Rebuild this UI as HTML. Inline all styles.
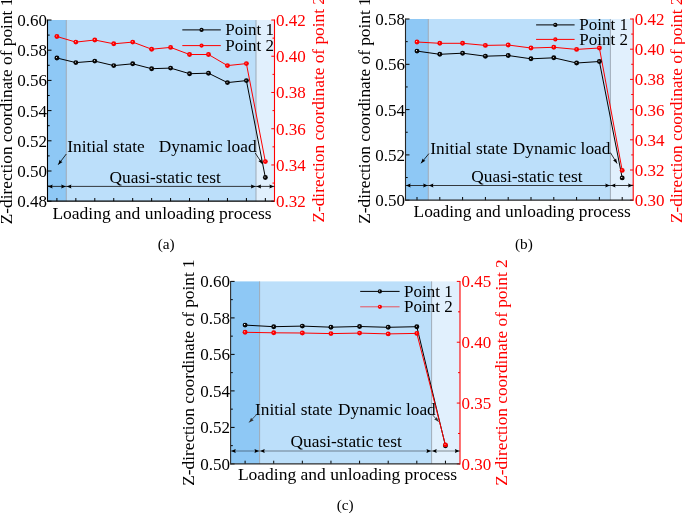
<!DOCTYPE html>
<html><head><meta charset="utf-8"><style>
html,body{margin:0;padding:0;background:#fff;}
svg{display:block;}
text{font-family:"Liberation Serif", "Times New Roman", serif;}
.tl{font-size:17px;fill:#000;}
.tr{font-size:17px;fill:#ff0000;}
.lg{font-size:17px;fill:#000;}
.an{font-size:17.35px;fill:#000;}
.al{font-size:17.3px;fill:#000;}
.alr{font-size:17.3px;fill:#ff0000;}
.xl{font-size:17.5px;fill:#000;}
.cp{font-size:15.3px;fill:#000;}
</style></head><body>
<svg width="685" height="513" viewBox="0 0 685 513">
<defs>
<radialGradient id="gb" cx="0.5" cy="0.5" r="0.5" fx="0.38" fy="0.38"><stop offset="0" stop-color="#ffffff"/><stop offset="0.16" stop-color="#9a9a9a"/><stop offset="0.38" stop-color="#0a0a0a"/><stop offset="1" stop-color="#000"/></radialGradient>
<radialGradient id="gr" cx="0.5" cy="0.5" r="0.5" fx="0.38" fy="0.38"><stop offset="0" stop-color="#ffd0d0"/><stop offset="0.18" stop-color="#ff5050"/><stop offset="0.42" stop-color="#ff0000"/><stop offset="1" stop-color="#f40000"/></radialGradient>
</defs>
<rect width="685" height="513" fill="#fff"/>
<rect x="47.5" y="20" width="18.80" height="181.20" fill="#8ec8f5"/>
<rect x="66.3" y="20" width="189.70" height="181.20" fill="#bcdffa"/>
<rect x="256" y="20" width="18.50" height="181.20" fill="#e1f0fd"/>
<line x1="66.3" y1="20" x2="66.3" y2="201.2" stroke="#98a4b0" stroke-width="0.9"/>
<line x1="256" y1="20" x2="256" y2="201.2" stroke="#98a4b0" stroke-width="0.9"/>
<line x1="56.90" y1="201.2" x2="56.90" y2="198.0" stroke="#000" stroke-width="1"/>
<line x1="75.85" y1="201.2" x2="75.85" y2="198.0" stroke="#000" stroke-width="1"/>
<line x1="94.80" y1="201.2" x2="94.80" y2="198.0" stroke="#000" stroke-width="1"/>
<line x1="113.75" y1="201.2" x2="113.75" y2="198.0" stroke="#000" stroke-width="1"/>
<line x1="132.70" y1="201.2" x2="132.70" y2="198.0" stroke="#000" stroke-width="1"/>
<line x1="151.65" y1="201.2" x2="151.65" y2="198.0" stroke="#000" stroke-width="1"/>
<line x1="170.60" y1="201.2" x2="170.60" y2="198.0" stroke="#000" stroke-width="1"/>
<line x1="189.55" y1="201.2" x2="189.55" y2="198.0" stroke="#000" stroke-width="1"/>
<line x1="208.50" y1="201.2" x2="208.50" y2="198.0" stroke="#000" stroke-width="1"/>
<line x1="227.45" y1="201.2" x2="227.45" y2="198.0" stroke="#000" stroke-width="1"/>
<line x1="246.40" y1="201.2" x2="246.40" y2="198.0" stroke="#000" stroke-width="1"/>
<line x1="265.35" y1="201.2" x2="265.35" y2="198.0" stroke="#000" stroke-width="1"/>
<line x1="47.5" y1="20.00" x2="51.5" y2="20.00" stroke="#000" stroke-width="1"/>
<text x="47.0" y="26.00" text-anchor="end" class="tl">0.60</text>
<line x1="47.5" y1="35.10" x2="49.7" y2="35.10" stroke="#000" stroke-width="1"/>
<line x1="47.5" y1="50.20" x2="51.5" y2="50.20" stroke="#000" stroke-width="1"/>
<text x="47.0" y="56.20" text-anchor="end" class="tl">0.58</text>
<line x1="47.5" y1="65.30" x2="49.7" y2="65.30" stroke="#000" stroke-width="1"/>
<line x1="47.5" y1="80.40" x2="51.5" y2="80.40" stroke="#000" stroke-width="1"/>
<text x="47.0" y="86.40" text-anchor="end" class="tl">0.56</text>
<line x1="47.5" y1="95.50" x2="49.7" y2="95.50" stroke="#000" stroke-width="1"/>
<line x1="47.5" y1="110.60" x2="51.5" y2="110.60" stroke="#000" stroke-width="1"/>
<text x="47.0" y="116.60" text-anchor="end" class="tl">0.54</text>
<line x1="47.5" y1="125.70" x2="49.7" y2="125.70" stroke="#000" stroke-width="1"/>
<line x1="47.5" y1="140.80" x2="51.5" y2="140.80" stroke="#000" stroke-width="1"/>
<text x="47.0" y="146.80" text-anchor="end" class="tl">0.52</text>
<line x1="47.5" y1="155.90" x2="49.7" y2="155.90" stroke="#000" stroke-width="1"/>
<line x1="47.5" y1="171.00" x2="51.5" y2="171.00" stroke="#000" stroke-width="1"/>
<text x="47.0" y="177.00" text-anchor="end" class="tl">0.50</text>
<line x1="47.5" y1="186.10" x2="49.7" y2="186.10" stroke="#000" stroke-width="1"/>
<line x1="47.5" y1="201.20" x2="51.5" y2="201.20" stroke="#000" stroke-width="1"/>
<text x="47.0" y="207.20" text-anchor="end" class="tl">0.48</text>
<line x1="274.5" y1="20.00" x2="271.3" y2="20.00" stroke="#ff0000" stroke-width="1"/>
<text x="276.0" y="26.00" class="tr">0.42</text>
<line x1="274.5" y1="38.12" x2="272.5" y2="38.12" stroke="#ff0000" stroke-width="1"/>
<line x1="274.5" y1="56.24" x2="271.3" y2="56.24" stroke="#ff0000" stroke-width="1"/>
<text x="276.0" y="62.24" class="tr">0.40</text>
<line x1="274.5" y1="74.36" x2="272.5" y2="74.36" stroke="#ff0000" stroke-width="1"/>
<line x1="274.5" y1="92.48" x2="271.3" y2="92.48" stroke="#ff0000" stroke-width="1"/>
<text x="276.0" y="98.48" class="tr">0.38</text>
<line x1="274.5" y1="110.60" x2="272.5" y2="110.60" stroke="#ff0000" stroke-width="1"/>
<line x1="274.5" y1="128.72" x2="271.3" y2="128.72" stroke="#ff0000" stroke-width="1"/>
<text x="276.0" y="134.72" class="tr">0.36</text>
<line x1="274.5" y1="146.84" x2="272.5" y2="146.84" stroke="#ff0000" stroke-width="1"/>
<line x1="274.5" y1="164.96" x2="271.3" y2="164.96" stroke="#ff0000" stroke-width="1"/>
<text x="276.0" y="170.96" class="tr">0.34</text>
<line x1="274.5" y1="183.08" x2="272.5" y2="183.08" stroke="#ff0000" stroke-width="1"/>
<line x1="274.5" y1="201.20" x2="271.3" y2="201.20" stroke="#ff0000" stroke-width="1"/>
<text x="276.0" y="207.20" class="tr">0.32</text>
<line x1="47.5" y1="19.5" x2="47.5" y2="201.7" stroke="#000" stroke-width="1.1"/>
<line x1="47.5" y1="201.2" x2="274.5" y2="201.2" stroke="#000" stroke-width="1.2"/>
<line x1="274.5" y1="19.5" x2="274.5" y2="201.7" stroke="#ff0000" stroke-width="1.1"/>
<line x1="47.5" y1="186.4" x2="274.5" y2="186.4" stroke="#1a1a1a" stroke-width="0.85"/>
<polygon points="48.00,186.40 52.60,184.40 52.05,186.40 52.60,188.40" fill="#000"/>
<polygon points="65.80,186.40 61.20,188.40 61.75,186.40 61.20,184.40" fill="#000"/>
<polygon points="66.80,186.40 71.40,184.40 70.85,186.40 71.40,188.40" fill="#000"/>
<polygon points="255.50,186.40 250.90,188.40 251.45,186.40 250.90,184.40" fill="#000"/>
<polygon points="256.50,186.40 261.10,184.40 260.55,186.40 261.10,188.40" fill="#000"/>
<polygon points="274.00,186.40 269.40,188.40 269.95,186.40 269.40,184.40" fill="#000"/>
<polyline points="56.90,58.00 75.85,62.60 94.80,61.10 113.75,65.60 132.70,63.80 151.65,68.70 170.60,68.10 189.55,73.70 208.50,73.20 227.45,82.60 246.40,80.60 265.35,177.50" fill="none" stroke="#000" stroke-width="1"/>
<polyline points="56.90,36.50 75.85,42.10 94.80,40.00 113.75,43.80 132.70,42.10 151.65,49.20 170.60,47.40 189.55,54.50 208.50,54.50 227.45,65.60 246.40,63.60 265.35,161.60" fill="none" stroke="#ff0000" stroke-width="1"/>
<circle cx="56.90" cy="58.00" r="2.45" fill="url(#gb)"/>
<circle cx="75.85" cy="62.60" r="2.45" fill="url(#gb)"/>
<circle cx="94.80" cy="61.10" r="2.45" fill="url(#gb)"/>
<circle cx="113.75" cy="65.60" r="2.45" fill="url(#gb)"/>
<circle cx="132.70" cy="63.80" r="2.45" fill="url(#gb)"/>
<circle cx="151.65" cy="68.70" r="2.45" fill="url(#gb)"/>
<circle cx="170.60" cy="68.10" r="2.45" fill="url(#gb)"/>
<circle cx="189.55" cy="73.70" r="2.45" fill="url(#gb)"/>
<circle cx="208.50" cy="73.20" r="2.45" fill="url(#gb)"/>
<circle cx="227.45" cy="82.60" r="2.45" fill="url(#gb)"/>
<circle cx="246.40" cy="80.60" r="2.45" fill="url(#gb)"/>
<circle cx="265.35" cy="177.50" r="2.45" fill="url(#gb)"/>
<circle cx="56.90" cy="36.50" r="2.45" fill="url(#gr)"/>
<circle cx="75.85" cy="42.10" r="2.45" fill="url(#gr)"/>
<circle cx="94.80" cy="40.00" r="2.45" fill="url(#gr)"/>
<circle cx="113.75" cy="43.80" r="2.45" fill="url(#gr)"/>
<circle cx="132.70" cy="42.10" r="2.45" fill="url(#gr)"/>
<circle cx="151.65" cy="49.20" r="2.45" fill="url(#gr)"/>
<circle cx="170.60" cy="47.40" r="2.45" fill="url(#gr)"/>
<circle cx="189.55" cy="54.50" r="2.45" fill="url(#gr)"/>
<circle cx="208.50" cy="54.50" r="2.45" fill="url(#gr)"/>
<circle cx="227.45" cy="65.60" r="2.45" fill="url(#gr)"/>
<circle cx="246.40" cy="63.60" r="2.45" fill="url(#gr)"/>
<circle cx="265.35" cy="161.60" r="2.45" fill="url(#gr)"/>
<line x1="182.3" y1="29.9" x2="220.8" y2="29.9" stroke="#000" stroke-width="1"/>
<circle cx="201.55" cy="29.90" r="2.1" fill="url(#gb)"/>
<text x="225.3" y="35.4" class="lg">Point 1</text>
<line x1="182.3" y1="45.6" x2="220.8" y2="45.6" stroke="#ff0000" stroke-width="1"/>
<circle cx="201.55" cy="45.60" r="2.1" fill="url(#gr)"/>
<text x="225.3" y="51.1" class="lg">Point 2</text>
<text x="67.2" y="151.6" class="an">Initial state</text>
<text x="158.8" y="151.6" class="an">Dynamic load</text>
<text x="109.5" y="182.8" class="an">Quasi-static test</text>
<line x1="66.3" y1="154" x2="58.2" y2="164.7" stroke="#000" stroke-width="0.8"/>
<polygon points="58.20,164.70 59.66,159.79 60.81,161.26 62.53,161.96" fill="#000"/>
<line x1="255.2" y1="153" x2="262.5" y2="164" stroke="#000" stroke-width="0.8"/>
<polygon points="262.50,164.00 258.35,161.00 260.11,160.40 261.35,159.01" fill="#000"/>
<text transform="translate(12.2,224.2) rotate(-90)" class="al">Z-direction coordinate of point 1</text>
<text transform="translate(323.7,222.6) rotate(-90)" class="alr">Z-direction coordinate of point 2</text>
<text x="52.4" y="218.8" class="xl" style="font-size:17.5px">Loading and unloading process</text>
<text x="157.7" y="248.7" class="cp">(a)</text>
<rect x="405.5" y="19" width="22.80" height="181.20" fill="#8ec8f5"/>
<rect x="428.3" y="19" width="182.10" height="181.20" fill="#bcdffa"/>
<rect x="610.4" y="19" width="22.80" height="181.20" fill="#e1f0fd"/>
<line x1="428.3" y1="19" x2="428.3" y2="200.2" stroke="#98a4b0" stroke-width="0.9"/>
<line x1="610.4" y1="19" x2="610.4" y2="200.2" stroke="#98a4b0" stroke-width="0.9"/>
<line x1="417.00" y1="200.2" x2="417.00" y2="197.0" stroke="#000" stroke-width="1"/>
<line x1="439.80" y1="200.2" x2="439.80" y2="197.0" stroke="#000" stroke-width="1"/>
<line x1="462.60" y1="200.2" x2="462.60" y2="197.0" stroke="#000" stroke-width="1"/>
<line x1="485.40" y1="200.2" x2="485.40" y2="197.0" stroke="#000" stroke-width="1"/>
<line x1="508.20" y1="200.2" x2="508.20" y2="197.0" stroke="#000" stroke-width="1"/>
<line x1="531.00" y1="200.2" x2="531.00" y2="197.0" stroke="#000" stroke-width="1"/>
<line x1="553.80" y1="200.2" x2="553.80" y2="197.0" stroke="#000" stroke-width="1"/>
<line x1="576.60" y1="200.2" x2="576.60" y2="197.0" stroke="#000" stroke-width="1"/>
<line x1="599.40" y1="200.2" x2="599.40" y2="197.0" stroke="#000" stroke-width="1"/>
<line x1="622.20" y1="200.2" x2="622.20" y2="197.0" stroke="#000" stroke-width="1"/>
<line x1="405.5" y1="19.00" x2="409.5" y2="19.00" stroke="#000" stroke-width="1"/>
<text x="405.0" y="25.00" text-anchor="end" class="tl">0.58</text>
<line x1="405.5" y1="41.65" x2="407.7" y2="41.65" stroke="#000" stroke-width="1"/>
<line x1="405.5" y1="64.30" x2="409.5" y2="64.30" stroke="#000" stroke-width="1"/>
<text x="405.0" y="70.30" text-anchor="end" class="tl">0.56</text>
<line x1="405.5" y1="86.95" x2="407.7" y2="86.95" stroke="#000" stroke-width="1"/>
<line x1="405.5" y1="109.60" x2="409.5" y2="109.60" stroke="#000" stroke-width="1"/>
<text x="405.0" y="115.60" text-anchor="end" class="tl">0.54</text>
<line x1="405.5" y1="132.25" x2="407.7" y2="132.25" stroke="#000" stroke-width="1"/>
<line x1="405.5" y1="154.90" x2="409.5" y2="154.90" stroke="#000" stroke-width="1"/>
<text x="405.0" y="160.90" text-anchor="end" class="tl">0.52</text>
<line x1="405.5" y1="177.55" x2="407.7" y2="177.55" stroke="#000" stroke-width="1"/>
<line x1="405.5" y1="200.20" x2="409.5" y2="200.20" stroke="#000" stroke-width="1"/>
<text x="405.0" y="206.20" text-anchor="end" class="tl">0.50</text>
<line x1="633.2" y1="19.00" x2="630.0" y2="19.00" stroke="#ff0000" stroke-width="1"/>
<text x="634.7" y="25.00" class="tr">0.42</text>
<line x1="633.2" y1="34.10" x2="631.2" y2="34.10" stroke="#ff0000" stroke-width="1"/>
<line x1="633.2" y1="49.20" x2="630.0" y2="49.20" stroke="#ff0000" stroke-width="1"/>
<text x="634.7" y="55.20" class="tr">0.40</text>
<line x1="633.2" y1="64.30" x2="631.2" y2="64.30" stroke="#ff0000" stroke-width="1"/>
<line x1="633.2" y1="79.40" x2="630.0" y2="79.40" stroke="#ff0000" stroke-width="1"/>
<text x="634.7" y="85.40" class="tr">0.38</text>
<line x1="633.2" y1="94.50" x2="631.2" y2="94.50" stroke="#ff0000" stroke-width="1"/>
<line x1="633.2" y1="109.60" x2="630.0" y2="109.60" stroke="#ff0000" stroke-width="1"/>
<text x="634.7" y="115.60" class="tr">0.36</text>
<line x1="633.2" y1="124.70" x2="631.2" y2="124.70" stroke="#ff0000" stroke-width="1"/>
<line x1="633.2" y1="139.80" x2="630.0" y2="139.80" stroke="#ff0000" stroke-width="1"/>
<text x="634.7" y="145.80" class="tr">0.34</text>
<line x1="633.2" y1="154.90" x2="631.2" y2="154.90" stroke="#ff0000" stroke-width="1"/>
<line x1="633.2" y1="170.00" x2="630.0" y2="170.00" stroke="#ff0000" stroke-width="1"/>
<text x="634.7" y="176.00" class="tr">0.32</text>
<line x1="633.2" y1="185.10" x2="631.2" y2="185.10" stroke="#ff0000" stroke-width="1"/>
<line x1="633.2" y1="200.20" x2="630.0" y2="200.20" stroke="#ff0000" stroke-width="1"/>
<text x="634.7" y="206.20" class="tr">0.30</text>
<line x1="405.5" y1="18.5" x2="405.5" y2="200.7" stroke="#262626" stroke-width="1.1"/>
<line x1="405.5" y1="200.2" x2="633.2" y2="200.2" stroke="#262626" stroke-width="1.2"/>
<line x1="633.2" y1="18.5" x2="633.2" y2="200.7" stroke="#ff0000" stroke-width="1.1"/>
<line x1="405.5" y1="185.5" x2="633.2" y2="185.5" stroke="#1a1a1a" stroke-width="0.85"/>
<polygon points="406.00,185.50 410.60,183.50 410.05,185.50 410.60,187.50" fill="#000"/>
<polygon points="427.80,185.50 423.20,187.50 423.75,185.50 423.20,183.50" fill="#000"/>
<polygon points="428.80,185.50 433.40,183.50 432.85,185.50 433.40,187.50" fill="#000"/>
<polygon points="609.90,185.50 605.30,187.50 605.85,185.50 605.30,183.50" fill="#000"/>
<polygon points="610.90,185.50 615.50,183.50 614.95,185.50 615.50,187.50" fill="#000"/>
<polygon points="632.70,185.50 628.10,187.50 628.65,185.50 628.10,183.50" fill="#000"/>
<polyline points="417.00,51.10 439.80,54.30 462.60,53.20 485.40,56.20 508.20,55.50 531.00,58.80 553.80,57.80 576.60,63.00 599.40,61.50 622.20,177.90" fill="none" stroke="#000" stroke-width="1"/>
<polyline points="417.00,42.00 439.80,43.30 462.60,43.30 485.40,45.40 508.20,45.00 531.00,48.00 553.80,47.30 576.60,49.40 599.40,48.00 622.20,170.40" fill="none" stroke="#ff0000" stroke-width="1"/>
<circle cx="417.00" cy="51.10" r="2.45" fill="url(#gb)"/>
<circle cx="439.80" cy="54.30" r="2.45" fill="url(#gb)"/>
<circle cx="462.60" cy="53.20" r="2.45" fill="url(#gb)"/>
<circle cx="485.40" cy="56.20" r="2.45" fill="url(#gb)"/>
<circle cx="508.20" cy="55.50" r="2.45" fill="url(#gb)"/>
<circle cx="531.00" cy="58.80" r="2.45" fill="url(#gb)"/>
<circle cx="553.80" cy="57.80" r="2.45" fill="url(#gb)"/>
<circle cx="576.60" cy="63.00" r="2.45" fill="url(#gb)"/>
<circle cx="599.40" cy="61.50" r="2.45" fill="url(#gb)"/>
<circle cx="622.20" cy="177.90" r="2.45" fill="url(#gb)"/>
<circle cx="417.00" cy="42.00" r="2.45" fill="url(#gr)"/>
<circle cx="439.80" cy="43.30" r="2.45" fill="url(#gr)"/>
<circle cx="462.60" cy="43.30" r="2.45" fill="url(#gr)"/>
<circle cx="485.40" cy="45.40" r="2.45" fill="url(#gr)"/>
<circle cx="508.20" cy="45.00" r="2.45" fill="url(#gr)"/>
<circle cx="531.00" cy="48.00" r="2.45" fill="url(#gr)"/>
<circle cx="553.80" cy="47.30" r="2.45" fill="url(#gr)"/>
<circle cx="576.60" cy="49.40" r="2.45" fill="url(#gr)"/>
<circle cx="599.40" cy="48.00" r="2.45" fill="url(#gr)"/>
<circle cx="622.20" cy="170.40" r="2.45" fill="url(#gr)"/>
<line x1="536.1" y1="24.9" x2="574.6" y2="24.9" stroke="#000" stroke-width="1"/>
<circle cx="555.35" cy="24.90" r="2.1" fill="url(#gb)"/>
<text x="579.3" y="30.4" class="lg">Point 1</text>
<line x1="536.1" y1="39.4" x2="574.6" y2="39.4" stroke="#ff0000" stroke-width="1"/>
<circle cx="555.35" cy="39.40" r="2.1" fill="url(#gr)"/>
<text x="579.3" y="44.9" class="lg">Point 2</text>
<text x="430.2" y="153.5" class="an">Initial state</text>
<text x="512.7" y="153.5" class="an">Dynamic load</text>
<text x="471.3" y="181.8" class="an">Quasi-static test</text>
<line x1="428.9" y1="153.6" x2="421" y2="163.3" stroke="#000" stroke-width="0.8"/>
<polygon points="421.00,163.30 422.64,158.44 423.73,159.95 425.43,160.71" fill="#000"/>
<line x1="610.4" y1="152.6" x2="617.1" y2="163.5" stroke="#000" stroke-width="0.8"/>
<polygon points="617.10,163.50 613.05,160.35 614.84,159.82 616.12,158.47" fill="#000"/>
<text transform="translate(369.6,223.8) rotate(-90)" class="al">Z-direction coordinate of point 1</text>
<text transform="translate(681.8,223) rotate(-90)" class="alr">Z-direction coordinate of point 2</text>
<text x="413.6" y="217.3" class="xl" style="font-size:17.35px">Loading and unloading process</text>
<text x="515" y="248.7" class="cp">(b)</text>
<rect x="230.6" y="281.4" width="29.00" height="182.50" fill="#8ec8f5"/>
<rect x="259.6" y="281.4" width="172.00" height="182.50" fill="#bcdffa"/>
<rect x="431.6" y="281.4" width="28.40" height="182.50" fill="#e1f0fd"/>
<line x1="259.6" y1="281.4" x2="259.6" y2="463.9" stroke="#98a4b0" stroke-width="0.9"/>
<line x1="431.6" y1="281.4" x2="431.6" y2="463.9" stroke="#98a4b0" stroke-width="0.9"/>
<line x1="245.10" y1="463.9" x2="245.10" y2="460.7" stroke="#000" stroke-width="1"/>
<line x1="273.72" y1="463.9" x2="273.72" y2="460.7" stroke="#000" stroke-width="1"/>
<line x1="302.34" y1="463.9" x2="302.34" y2="460.7" stroke="#000" stroke-width="1"/>
<line x1="330.96" y1="463.9" x2="330.96" y2="460.7" stroke="#000" stroke-width="1"/>
<line x1="359.58" y1="463.9" x2="359.58" y2="460.7" stroke="#000" stroke-width="1"/>
<line x1="388.20" y1="463.9" x2="388.20" y2="460.7" stroke="#000" stroke-width="1"/>
<line x1="416.82" y1="463.9" x2="416.82" y2="460.7" stroke="#000" stroke-width="1"/>
<line x1="445.44" y1="463.9" x2="445.44" y2="460.7" stroke="#000" stroke-width="1"/>
<line x1="230.6" y1="281.40" x2="234.6" y2="281.40" stroke="#000" stroke-width="1"/>
<text x="230.1" y="287.40" text-anchor="end" class="tl">0.60</text>
<line x1="230.6" y1="299.65" x2="232.79999999999998" y2="299.65" stroke="#000" stroke-width="1"/>
<line x1="230.6" y1="317.90" x2="234.6" y2="317.90" stroke="#000" stroke-width="1"/>
<text x="230.1" y="323.90" text-anchor="end" class="tl">0.58</text>
<line x1="230.6" y1="336.15" x2="232.79999999999998" y2="336.15" stroke="#000" stroke-width="1"/>
<line x1="230.6" y1="354.40" x2="234.6" y2="354.40" stroke="#000" stroke-width="1"/>
<text x="230.1" y="360.40" text-anchor="end" class="tl">0.56</text>
<line x1="230.6" y1="372.65" x2="232.79999999999998" y2="372.65" stroke="#000" stroke-width="1"/>
<line x1="230.6" y1="390.90" x2="234.6" y2="390.90" stroke="#000" stroke-width="1"/>
<text x="230.1" y="396.90" text-anchor="end" class="tl">0.54</text>
<line x1="230.6" y1="409.15" x2="232.79999999999998" y2="409.15" stroke="#000" stroke-width="1"/>
<line x1="230.6" y1="427.40" x2="234.6" y2="427.40" stroke="#000" stroke-width="1"/>
<text x="230.1" y="433.40" text-anchor="end" class="tl">0.52</text>
<line x1="230.6" y1="445.65" x2="232.79999999999998" y2="445.65" stroke="#000" stroke-width="1"/>
<line x1="230.6" y1="463.90" x2="234.6" y2="463.90" stroke="#000" stroke-width="1"/>
<text x="230.1" y="469.90" text-anchor="end" class="tl">0.50</text>
<line x1="460" y1="281.40" x2="456.8" y2="281.40" stroke="#ff0000" stroke-width="1"/>
<text x="461.5" y="287.40" class="tr">0.45</text>
<line x1="460" y1="311.82" x2="458" y2="311.82" stroke="#ff0000" stroke-width="1"/>
<line x1="460" y1="342.23" x2="456.8" y2="342.23" stroke="#ff0000" stroke-width="1"/>
<text x="461.5" y="348.23" class="tr">0.40</text>
<line x1="460" y1="372.65" x2="458" y2="372.65" stroke="#ff0000" stroke-width="1"/>
<line x1="460" y1="403.07" x2="456.8" y2="403.07" stroke="#ff0000" stroke-width="1"/>
<text x="461.5" y="409.07" class="tr">0.35</text>
<line x1="460" y1="433.48" x2="458" y2="433.48" stroke="#ff0000" stroke-width="1"/>
<line x1="460" y1="463.90" x2="456.8" y2="463.90" stroke="#ff0000" stroke-width="1"/>
<text x="461.5" y="469.90" class="tr">0.30</text>
<line x1="230.6" y1="280.9" x2="230.6" y2="464.4" stroke="#2e2e2e" stroke-width="1.1"/>
<line x1="230.6" y1="463.9" x2="460" y2="463.9" stroke="#2e2e2e" stroke-width="1.2"/>
<line x1="460" y1="280.9" x2="460" y2="464.4" stroke="#ff0000" stroke-width="1.1"/>
<line x1="230.6" y1="451" x2="460" y2="451" stroke="rgba(0,0,0,0.5)" stroke-width="0.85"/>
<polygon points="231.10,451.00 235.70,449.00 235.15,451.00 235.70,453.00" fill="#000"/>
<polygon points="259.10,451.00 254.50,453.00 255.05,451.00 254.50,449.00" fill="#000"/>
<polygon points="260.10,451.00 264.70,449.00 264.15,451.00 264.70,453.00" fill="#000"/>
<polygon points="431.10,451.00 426.50,453.00 427.05,451.00 426.50,449.00" fill="#000"/>
<polygon points="432.10,451.00 436.70,449.00 436.15,451.00 436.70,453.00" fill="#000"/>
<polygon points="459.50,451.00 454.90,453.00 455.45,451.00 454.90,449.00" fill="#000"/>
<polyline points="245.10,325.10 273.72,326.70 302.34,326.10 330.96,327.20 359.58,326.50 388.20,327.30 416.82,326.70 445.44,445.80" fill="none" stroke="#000" stroke-width="1"/>
<polyline points="245.10,332.30 273.72,332.80 302.34,333.00 330.96,333.60 359.58,333.10 388.20,333.90 416.82,333.40 445.44,444.90" fill="none" stroke="#ff0000" stroke-width="1"/>
<circle cx="245.10" cy="325.10" r="2.45" fill="url(#gb)"/>
<circle cx="273.72" cy="326.70" r="2.45" fill="url(#gb)"/>
<circle cx="302.34" cy="326.10" r="2.45" fill="url(#gb)"/>
<circle cx="330.96" cy="327.20" r="2.45" fill="url(#gb)"/>
<circle cx="359.58" cy="326.50" r="2.45" fill="url(#gb)"/>
<circle cx="388.20" cy="327.30" r="2.45" fill="url(#gb)"/>
<circle cx="416.82" cy="326.70" r="2.45" fill="url(#gb)"/>
<circle cx="445.44" cy="445.80" r="2.45" fill="url(#gb)"/>
<circle cx="245.10" cy="332.30" r="2.45" fill="url(#gr)"/>
<circle cx="273.72" cy="332.80" r="2.45" fill="url(#gr)"/>
<circle cx="302.34" cy="333.00" r="2.45" fill="url(#gr)"/>
<circle cx="330.96" cy="333.60" r="2.45" fill="url(#gr)"/>
<circle cx="359.58" cy="333.10" r="2.45" fill="url(#gr)"/>
<circle cx="388.20" cy="333.90" r="2.45" fill="url(#gr)"/>
<circle cx="416.82" cy="333.40" r="2.45" fill="url(#gr)"/>
<circle cx="445.44" cy="444.90" r="2.45" fill="url(#gr)"/>
<line x1="360.2" y1="291.4" x2="399.6" y2="291.4" stroke="#000" stroke-width="1"/>
<circle cx="379.90" cy="291.40" r="2.1" fill="url(#gb)"/>
<text x="404.1" y="296.9" class="lg">Point 1</text>
<line x1="360.2" y1="306.8" x2="399.6" y2="306.8" stroke="#e8505c" stroke-width="1"/>
<circle cx="379.90" cy="306.80" r="2.1" fill="url(#gr)"/>
<text x="404.1" y="312.3" class="lg">Point 2</text>
<text x="255.0" y="414.6" class="an">Initial state</text>
<text x="338.0" y="414.6" class="an">Dynamic load</text>
<text x="290.6" y="446.9" class="an">Quasi-static test</text>
<line x1="256.6" y1="414.5" x2="249.1" y2="422.4" stroke="#333" stroke-width="0.8"/>
<polygon points="249.10,422.40 251.10,417.68 252.07,419.27 253.71,420.16" fill="#333"/>
<line x1="432.7" y1="415" x2="438.6" y2="421.8" stroke="#333" stroke-width="0.8"/>
<polygon points="438.60,421.80 434.09,419.35 435.77,418.54 436.81,416.99" fill="#333"/>
<text transform="translate(194.3,485.8) rotate(-90)" class="al">Z-direction coordinate of point 1</text>
<text transform="translate(507.4,485.8) rotate(-90)" class="alr">Z-direction coordinate of point 2</text>
<text x="237.9" y="479.7" class="xl" style="font-size:17.5px">Loading and unloading process</text>
<text x="336.7" y="509.7" class="cp">(c)</text>
</svg>
</body></html>
